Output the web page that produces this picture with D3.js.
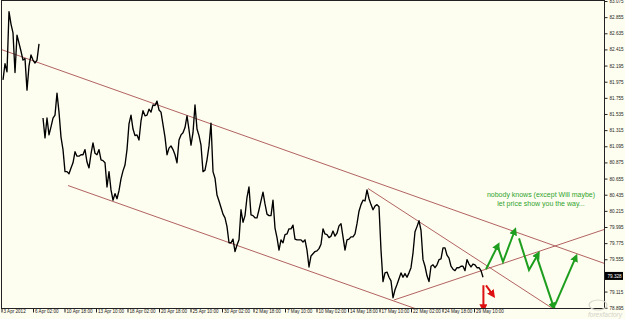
<!DOCTYPE html>
<html>
<head>
<meta charset="utf-8">
<script src="https://cdn.jsdelivr.net/npm/d3@7"></script>
<style>
  body { margin: 0; background: #fefef0; }
  svg { display: block; font-family: "Liberation Sans", Arial, sans-serif; }
</style>
</head>
<body>
<div class="canvas"></div>
<script>
const width = 625, height = 319

// right price scale (79.335 sits under the last price tag)
const priceTicks = [83.075, 82.855, 82.635, 82.415, 82.195, 81.975, 81.755, 81.535, 81.315, 81.095,
    80.875, 80.655, 80.435, 80.215, 79.995, 79.775, 79.555, 79.115, 78.895]
const lastPrice = 79.328

// time scale labels (every 64 H1 bars)
const dateLabels = ['3 Apr 2012', '6 Apr 02:00', '10 Apr 18:00', '13 Apr 10:00', '18 Apr 02:00',
    '20 Apr 18:00', '25 Apr 10:00', '30 Apr 02:00', '2 May 18:00', '7 May 10:00', '10 May 02:00',
    '14 May 18:00', '17 May 10:00', '22 May 02:00', '24 May 18:00', '29 May 10:00']

// closes, one every 4 bars; null = gap
const close = [
    82.00, 82.22, 82.11, 82.93, 82.76, 82.64, 82.10, 82.61, 82.50, 82.39,
    82.27, 82.29, 81.86, 82.19, 82.34, 82.27, 82.23, 82.27, 82.49, null,
    81.48, 81.21, 81.48, 81.25, 81.36, 81.48, 81.52, 81.82, 81.56, 81.22,
    81.05, 80.75, 80.75, 80.72, 80.80, 80.87, 81.02, 80.96, 80.96, 80.98,
    80.98, 81.05, 80.88, 80.80, 80.99, 81.14, 81.00, 80.98, 81.05, 80.91,
    80.90, 80.87, 80.54, 80.75, 80.50, 80.36, 80.45, 80.38, 80.49, 80.65,
    80.76, 80.84, 81.05, 81.40, 81.52, 81.33, 81.24, 81.25, 81.18, 81.44,
    81.58, 81.51, 81.52, 81.60, 81.56, 81.66, 81.65, 81.71, 81.59, 81.56,
    81.39, 81.22, 80.98, 81.07, 81.10, 81.05, 80.98, 80.87, 81.18, 81.25,
    81.28, 81.35, 81.51, 81.32, 81.11, 81.28, 81.66, 81.33, 81.24, 81.11,
    80.75, 80.77, 80.91, 81.10, 81.41, 80.75, 80.66, 80.43, 80.35, 80.26,
    80.17, 80.12, 80.00, 79.78, 79.78, 79.83, 79.66, 79.75, 79.82, 80.23,
    80.06, 80.15, 80.40, 80.54, 80.16, 80.15, 80.12, 80.12, 80.23, 80.35,
    80.47, 80.31, 80.17, 80.15, 80.15, 80.36, 79.98, 79.85, 79.68, 79.82,
    79.78, 79.89, 79.90, 79.97, 79.97, 80.02, 79.83, 79.82, 79.82, 79.82,
    79.79, 79.82, 79.68, 79.45, 79.60, 79.63, 79.66, 79.67, 79.70, 79.76,
    79.97, 79.90, 79.89, 79.85, 79.87, 79.94, 79.87, 79.91, 80.01, 80.04,
    79.86, 79.68, 79.82, 79.83, 79.86, 79.86, 79.90, 80.04, 80.21, 80.30,
    80.36, 80.35, 80.50, 80.38, 80.30, 80.23, 80.28, 80.30, 80.27, 79.68,
    79.25, 79.37, 79.38, 79.31, 79.26, 79.03, 79.14, 79.21, 79.29, 79.37,
    79.31, 79.36, 79.31, 79.37, 79.44, 79.64, 79.93, 80.00, 80.08, 79.95,
    79.55, 79.46, 79.33, 79.25, 79.46, 79.48, 79.44, 79.48, 79.55, 79.56,
    79.71, 79.71, 79.61, 79.57, 79.46, 79.42, 79.40, 79.44, 79.44, 79.46,
    79.46, 79.40, 79.55, 79.49, 79.45, 79.49, 79.48, 79.44, 79.44, 79.40,
    79.31
]

// trend lines [index, price]
const trendA = [[-1.5, 82.42], [300.5, 79.50]]
const trendB = [[32.5, 80.56], [208.5, 78.86]]
const trendC = [[195.5, 79.00], [300.5, 79.96]]
const trendD = [[182.5, 80.52], [283.5, 78.73]]

// drawn arrows [index, price]
const greenArrows = [
    [[241.5, 79.42], [247, 79.72]],
    [[247.5, 79.72], [250, 79.52], [255.5, 79.92]],
    [[258, 79.84], [263, 79.41], [267, 79.60]],
    [[267, 79.58], [275, 78.93]],
    [[276, 78.93], [286, 79.56]]
]
const redArrows = [
    [[240.2, 79.20], [240.2, 78.91]],
    [[241.5, 79.20], [244.4, 79.09]]
]

const note = ['nobody knows (except Will maybe)', 'let price show you the way...']

const svg = d3.select('.canvas').append('svg').attr('width', width).attr('height', height)

const [pl, pt, pr, pb] = [1.5, 0.5, 604.5, 308.5]

svg.append('rect').attr('width', width).attr('height', height).attr('fill', '#fefef0')

const x = d3.scaleLinear().domain([0, close.length - 1]).range([3, 483])
const y = d3.scaleLinear().domain([78.895, 83.075]).range([307.7, 1])
const xDate = d3.scalePoint().domain(dateLabels).range([1.5, 474])

svg.append('clipPath').attr('id', 'plot')
    .append('rect').attr('x', pl).attr('y', pt).attr('width', pr - pl).attr('height', pb - pt)

const plot = svg.append('g').attr('clip-path', 'url(#plot)')

const seg = d3.line().x(d => x(d[0])).y(d => y(d[1]))

plot.selectAll('.trend').data([trendA, trendB, trendC, trendD]).enter()
    .append('path')
    .attr('class', 'trend')
    .attr('d', seg)
    .attr('fill', 'none')
    .attr('stroke', '#a85050')
    .attr('stroke-width', 0.9)

const priceLine = d3.line()
    .defined(d => d !== null)
    .x((d, i) => x(i))
    .y(d => y(d))

plot.append('path')
    .attr('d', priceLine(close))
    .attr('fill', 'none')
    .attr('stroke', '#000')
    .attr('stroke-width', 1.35)
    .attr('stroke-linejoin', 'round')

const defs = svg.append('defs')
const marker = (id, color) => defs.append('marker')
    .attr('id', id)
    .attr('viewBox', '0 0 10 10')
    .attr('refX', 3).attr('refY', 5)
    .attr('markerUnits', 'userSpaceOnUse')
    .attr('markerWidth', 8).attr('markerHeight', 8)
    .attr('orient', 'auto')
    .append('path').attr('d', 'M0,0 L10,5 L0,10 z').attr('fill', color)
marker('headG', '#1e9e1e')
marker('headR', '#dd1111')

plot.selectAll('.garrow').data(greenArrows).enter()
    .append('path')
    .attr('class', 'garrow')
    .attr('d', seg)
    .attr('fill', 'none')
    .attr('stroke', '#1e9e1e')
    .attr('stroke-width', 2)
    .attr('stroke-linejoin', 'miter')
    .attr('marker-end', 'url(#headG)')

plot.selectAll('.rarrow').data(redArrows).enter()
    .append('path')
    .attr('class', 'rarrow')
    .attr('d', seg)
    .attr('fill', 'none')
    .attr('stroke', '#dd1111')
    .attr('stroke-width', 2)
    .attr('marker-end', 'url(#headR)')

svg.selectAll('.note').data(note).enter()
    .append('text')
    .attr('class', 'note')
    .attr('x', 541)
    .attr('y', (d, i) => 196.5 + i * 9.5)
    .attr('text-anchor', 'middle')
    .attr('fill', '#2ea42e')
    .style('font-size', '7px')
    .text(d => d)

// frame
svg.append('rect')
    .attr('x', pl).attr('y', pt).attr('width', pr - pl).attr('height', pb - pt)
    .attr('fill', 'none').attr('stroke', '#222').attr('stroke-width', 1)

const yAxisG = svg.append('g').attr('transform', `translate(${pr}, 0)`)
yAxisG.call(d3.axisRight(y).tickValues(priceTicks).tickSize(3).tickPadding(2).tickFormat(d3.format('.3f')))
yAxisG.select('.domain').remove()
yAxisG.selectAll('line').attr('stroke', '#222')
yAxisG.selectAll('text').attr('fill', '#222').style('font-size', '4.6px')

const xAxisG = svg.append('g').attr('transform', `translate(0, ${pb})`)
xAxisG.call(d3.axisBottom(xDate).tickSize(4).tickPadding(0))
xAxisG.select('.domain').remove()
xAxisG.selectAll('line').attr('stroke', '#222')
xAxisG.selectAll('text')
    .attr('fill', '#222')
    .attr('text-anchor', 'start')
    .attr('dx', 1.5)
    .attr('dy', '0.2em')
    .style('font-size', '4.6px')

// last price tag
const tag = svg.append('g').attr('transform', `translate(${pr}, ${y(lastPrice)})`)
tag.append('rect').attr('x', 0.5).attr('y', -4).attr('width', 18).attr('height', 8).attr('fill', '#000')
tag.append('text').attr('x', 3).attr('y', 1.7).attr('fill', '#fff').style('font-size', '4.6px').text(d3.format('.3f')(lastPrice))

// watermark
svg.append('ellipse').attr('cx', 598).attr('cy', 305).attr('rx', 9).attr('ry', 5)
    .attr('fill', 'none').attr('stroke', '#d6d6cc').attr('stroke-width', 1.2)
svg.append('text').attr('x', 622).attr('y', 316.5).attr('text-anchor', 'end')
    .attr('fill', '#d2d2c8').style('font-size', '6.5px').style('font-style', 'italic')
    .text('forexfactory')
</script>
</body>
</html>
